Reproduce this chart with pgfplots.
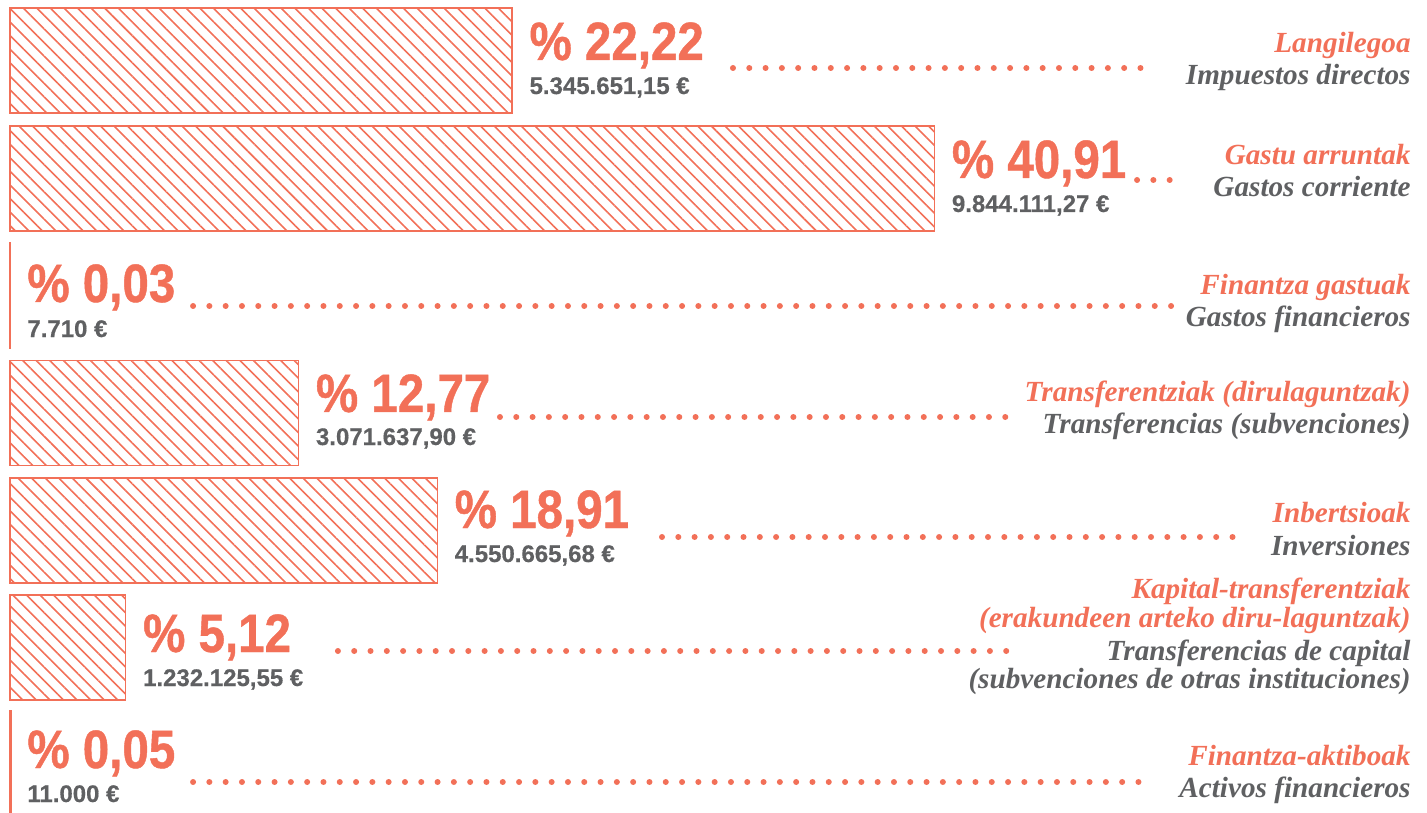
\documentclass[border=0pt]{standalone}
\usepackage{pgfplots}
\pgfplotsset{compat=1.18}
\usepackage{fontspec}
\usetikzlibrary{patterns.meta}
\setmainfont{Liberation Serif}
\newfontfamily\bigfont{Liberation Sans Bold}[FakeStretch=0.88, FakeBold=0.8]
\newfontfamily\smallfont{Liberation Sans Bold}[FakeBold=0.5]
\definecolor{coral}{RGB}{242,112,88}
\definecolor{txtgray}{RGB}{95,96,98}
\newcommand{\bignum}[3]{\node[anchor=base west,inner sep=0pt,xshift=8.5pt,text=coral,font=\bigfont\fontsize{27}{28}\selectfont] at (axis cs:#1,#2) {#3};}
\newcommand{\smallnum}[3]{\node[anchor=base west,inner sep=0pt,xshift=8.5pt,text=txtgray,font=\smallfont\fontsize{12}{13}\selectfont] at (axis cs:#1,#2) {#3};}
\newcommand{\lab}[3]{\node[anchor=base east,inner sep=0pt,text=#1,font=\bfseries\itshape\fontsize{14.6}{16}\selectfont] at (axis cs:61.99,#2) {#3};}
\begin{document}
\begin{tikzpicture}
\begin{axis}[
  scale only axis, width=713.5pt, height=406.5pt,
  xmin=-0.4425, xmax=62.699, ymin=0, ymax=813, y dir=reverse,
  hide axis, clip=false,
]
\addplot[xbar, bar width=105, draw=coral, line width=0.75pt,
  pattern={Lines[angle=-45,distance=4.8pt,line width=0.8pt]}, pattern color=coral]
  coordinates {(22.22,60.5) (40.91,178.5) (0.03,295.5) (12.77,413) (18.91,530.5) (5.12,647.5) (0.05,763)};
% leaders
\pgfplotsset{leader/.style={coral, line width=3pt, line cap=round, dash pattern=on 0pt off 8.15pt, mark=none}}
\addplot[leader] coordinates {(31.99,68) (50.60,68)};
\addplot[leader] coordinates {(49.87,180) (51.35,180)};
\addplot[leader] coordinates {(8.10,306) (51.45,306)};
\addplot[leader] coordinates {(21.68,417) (44.40,417)};
\addplot[leader] coordinates {(28.85,537) (54.70,537)};
\addplot[leader] coordinates {(14.51,651) (44.50,651)};
\addplot[leader] coordinates {(8.10,782) (50.60,782)};
% values
\bignum{22.22}{60}{\% 22,22}
\smallnum{22.22}{94}{5.345.651,15 €}
\bignum{40.91}{178}{\% 40,91}
\smallnum{40.91}{212}{9.844.111,27 €}
\bignum{0}{302}{\% 0,03}
\smallnum{0}{337}{7.710 €}
\bignum{12.77}{412}{\% 12,77}
\smallnum{12.77}{445}{3.071.637,90 €}
\bignum{18.91}{528}{\% 18,91}
\smallnum{18.91}{562}{4.550.665,68 €}
\bignum{5.12}{652}{\% 5,12}
\smallnum{5.12}{686}{1.232.125,55 €}
\bignum{0}{768}{\% 0,05}
\smallnum{0}{802}{11.000 €}
% labels
\lab{coral}{53}{Langilegoa}
\lab{txtgray}{85}{Impuestos directos}
\lab{coral}{165}{Gastu arruntak}
\lab{txtgray}{197}{Gastos corriente}
\lab{coral}{295}{Finantza gastuak}
\lab{txtgray}{327}{Gastos financieros}
\lab{coral}{401}{Transferentziak (dirulaguntzak)}
\lab{txtgray}{433}{Transferencias (subvenciones)}
\lab{coral}{523}{Inbertsioak}
\lab{txtgray}{555}{Inversiones}
\lab{coral}{598}{Kapital-transferentziak}
\lab{coral}{627}{(erakundeen arteko diru-laguntzak)}
\lab{txtgray}{660}{Transferencias de capital}
\lab{txtgray}{688}{(subvenciones de otras instituciones)}
\lab{coral}{765}{Finantza-aktiboak}
\lab{txtgray}{797}{Activos financieros}
\end{axis}
\pgfresetboundingbox
\path[use as bounding box] (current axis.south west) rectangle (current axis.north east);
\end{tikzpicture}
\end{document}
